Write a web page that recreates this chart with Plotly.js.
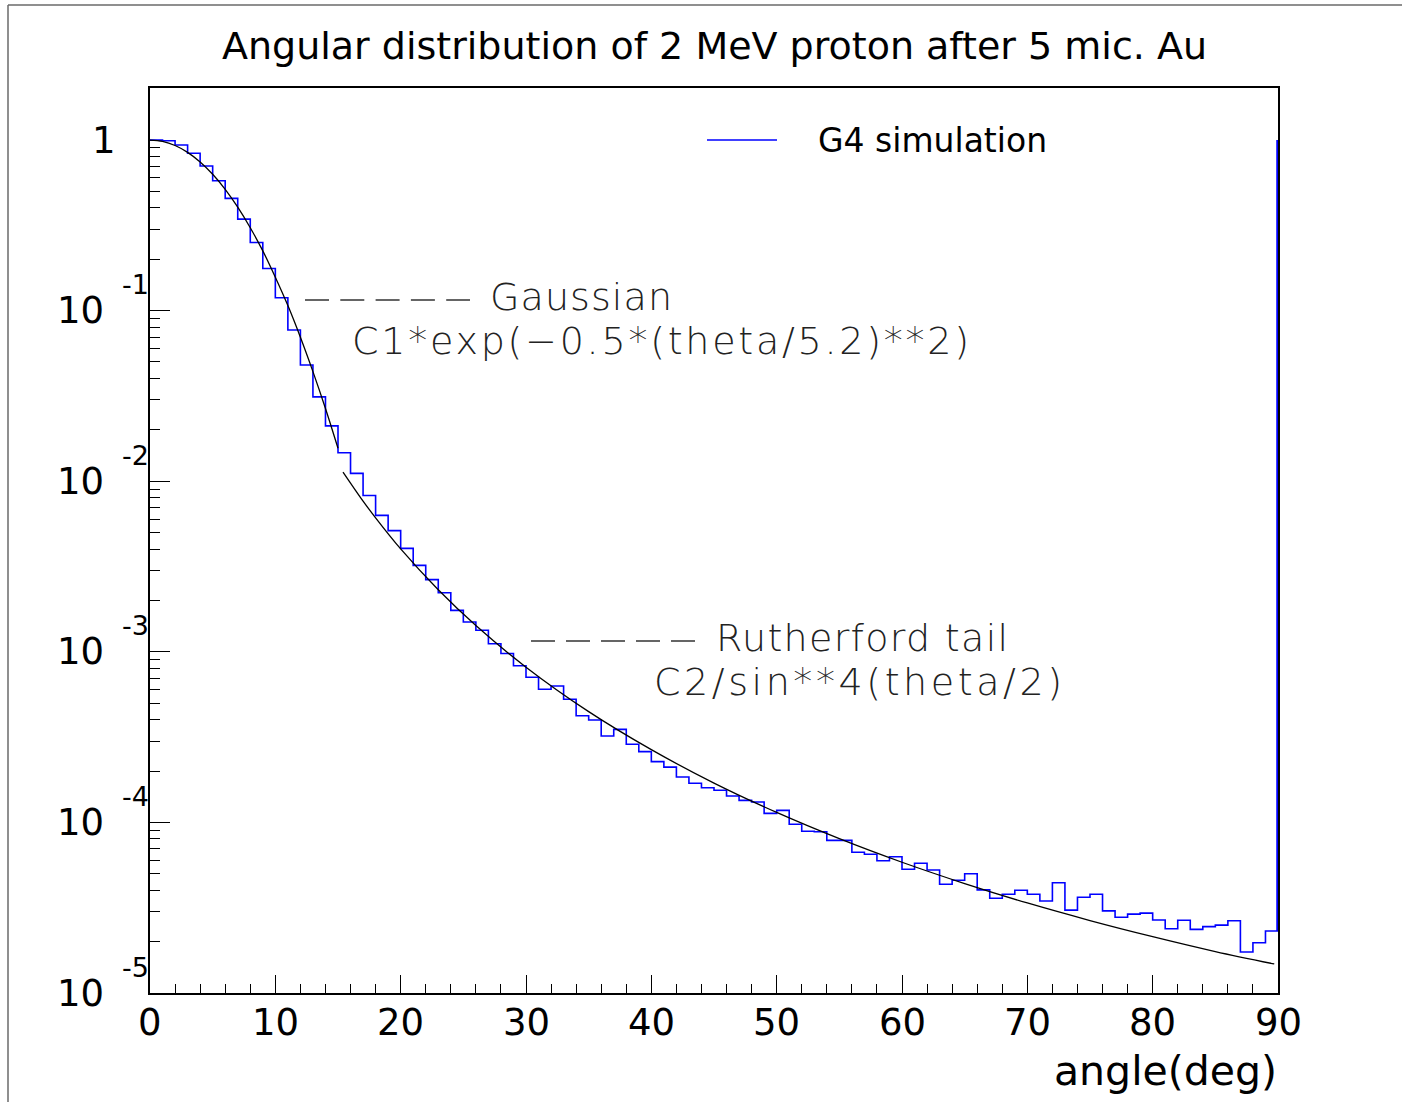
<!DOCTYPE html>
<html><head><meta charset="utf-8">
<script src="https://cdn.plot.ly/plotly-3.0.1.min.js"></script>
<style>html,body{margin:0;padding:0;background:#fff}</style>
</head><body><div id="chart" style="width:1402px;height:1102px"></div>
<script>
// ---------------- data ----------------
const chartTitle = "Angular distribution of 2 MeV proton after 5 mic. Au";
const xTitle = "angle(deg)";
const seriesName = "G4 simulation";

// lower edge of each 1-degree bin (deg)
const binLow = [0,1,2,3,4,5,6,7,8,9,10,11,12,13,14,15,16,17,18,19,20,21,22,23,24,25,26,27,28,29,
  30,31,32,33,34,35,36,37,38,39,40,41,42,43,44,45,46,47,48,49,50,51,52,53,54,55,56,57,58,59,
  60,61,62,63,64,65,66,67,68,69,70,71,72,73,74,75,76,77,78,79,80,81,82,83,84,85,86,87,88,89];
const binUpper = 90;

// G4 simulation histogram contents (normalised)
const g4Counts = [1.0,0.99,0.935,0.836,0.704,0.577,0.455,0.344,0.251,0.1765,
  0.119,0.0770,0.0480,0.0312,0.0211,0.01469,0.01112,0.00825,0.00631,0.00513,
  0.00404,0.00321,0.00265,0.00222,0.00175,0.001495,0.001337,0.001115,0.000977,0.000829,
  0.000709,0.000603,0.000630,0.000527,0.000422,0.000398,0.000321,0.000351,0.000287,0.000260,
  0.000227,0.000211,0.0001845,0.0001695,0.0001597,0.0001543,0.0001428,0.0001347,0.0001317,0.0001130,
  0.0001177,0.0000975,0.0000887,0.0000882,0.0000785,0.0000785,0.0000668,0.0000650,0.0000596,0.0000629,
  0.0000531,0.0000576,0.0000526,0.0000434,0.0000458,0.0000500,0.0000402,0.0000359,0.0000379,0.0000400,
  0.0000379,0.0000346,0.0000443,0.0000306,0.0000364,0.0000379,0.0000303,0.0000278,0.0000290,0.0000294,
  0.0000268,0.0000238,0.0000267,0.0000236,0.0000245,0.0000250,0.0000265,0.0000174,0.0000197,0.0000231];
// value the histogram outline climbs to at the right edge (overflow)
const overflowValue = 1.0;

// Gaussian fit curve  C1*exp(-0.5*(theta/5.2)**2)
const gaussAngle = [0,1,2,3,4,5,6,7,8,9,10,11,12,13,14,15];
const gaussValue = [1.0,0.982,0.929,0.847,0.744,0.630,0.514,0.404,0.306,0.224,0.157,0.107,0.0698,0.0439,0.0267,0.0156];

// Rutherford tail curve  C2/sin**4(theta/2)
const rutherAngle = [15.4,17,18,20,23,26,30,35,40,45,50,55,60,65,70,75,80,85,89.7];
const rutherValue = [0.01132,0.00765,0.0061,0.00401,0.00231,0.001425,0.000813,0.000446,0.000267,0.000170,
  0.0001144,0.0000803,0.0000584,0.0000438,0.0000337,0.0000266,0.0000214,0.0000175,0.0000148];

// axis ticks
const xMajorTicks = [0,10,20,30,40,50,60,70,80,90];
const xTickLabels = ["0","10","20","30","40","50","60","70","80","90"];
const yDecades = [0,-1,-2,-3,-4,-5];
const yMinorMultipliers = [2,3,4,5,6,7,8,9];

// annotation texts
const gaussLabel = "Gaussian";
const gaussFormula = "C1*exp(\u22120.5*(theta/5.2)**2)";
const rutherLabel = "Rutherford tail";
const rutherFormula = "C2/sin**4(theta/2)";

// ---------------- layout helpers ----------------
const W = 1402, H = 1102;
const L = 150, R = 1278, T = 88, B = 993;
const px = x => (x - L) / (R - L);
const py = y => (B - y) / (B - T);

const yMajorVals = yDecades.map(d => Math.pow(10, d));
const yMinorVals = [];
yDecades.forEach(d => yMinorMultipliers.forEach(m => {
  const v = m * Math.pow(10, d);
  if (Math.log10(v) <= 0.305) yMinorVals.push(v);
}));

const histX = binLow.concat([binUpper]);
const histY = g4Counts.concat([g4Counts[g4Counts.length - 1]]);

const traces = [
  {x: histX, y: histY, type: 'scatter', mode: 'lines', name: seriesName,
   line: {shape: 'hv', color: '#0000ff', width: 1.6}, showlegend: false},
  {x: [binUpper, binUpper], y: [g4Counts[g4Counts.length - 1], overflowValue], type: 'scatter', mode: 'lines',
   name: seriesName + ' overflow', line: {color: '#0000ff', width: 3.5}, showlegend: false},
  {x: gaussAngle, y: gaussValue, type: 'scatter', mode: 'lines', name: 'Gaussian',
   line: {shape: 'spline', color: '#000000', width: 1.3}, showlegend: false},
  {x: rutherAngle, y: rutherValue, type: 'scatter', mode: 'lines', name: 'Rutherford tail',
   line: {shape: 'spline', color: '#000000', width: 1.3}, showlegend: false}
];

const hershey = {family: 'DejaVu Sans', size: 38, color: '#222', weight: 200};
const axisFont = {family: 'DejaVu Sans', size: 37, color: '#000'};

const annotations = [];
yDecades.forEach(d => {
  if (d === 0) {
    annotations.push({xref: 'paper', yref: 'y', x: px(118), y: d, text: '1', showarrow: false,
      xanchor: 'right', yanchor: 'middle', font: axisFont});
  } else {
    annotations.push({xref: 'paper', yref: 'y', x: px(106), y: d, text: '10', showarrow: false,
      xanchor: 'right', yanchor: 'middle', font: axisFont});
    annotations.push({xref: 'paper', yref: 'y', x: px(120), y: d, yshift: 26, text: String(d), showarrow: false,
      xanchor: 'left', yanchor: 'middle', font: {family: 'DejaVu Sans', size: 27, color: '#000'}});
  }
});
xMajorTicks.forEach((v, i) => {
  annotations.push({xref: 'x', yref: 'paper', x: v, y: py(1023), text: xTickLabels[i], showarrow: false,
    xanchor: 'center', yanchor: 'middle', font: axisFont});
});
annotations.push({xref: 'paper', yref: 'paper', x: px(1279), y: py(1071), text: xTitle, showarrow: false,
  xanchor: 'right', yanchor: 'middle', font: {family: 'DejaVu Sans', size: 41, color: '#000'}});
annotations.push({xref: 'paper', yref: 'paper', x: px(816), y: py(140), text: seriesName, showarrow: false,
  xanchor: 'left', yanchor: 'middle', font: {family: 'DejaVu Sans', size: 33, color: '#000'}});

// Hershey-style labels: left position and ink width
const hersheyLabels = [
  {text: gaussLabel, left: 488, y: 297, width: 182},
  {text: gaussFormula, left: 350, y: 341, width: 617},
  {text: rutherLabel, left: 714, y: 638, width: 292},
  {text: rutherFormula, left: 652, y: 682, width: 408}
];
hersheyLabels.forEach(h => annotations.push({xref: 'paper', yref: 'paper', x: px(h.left), y: py(h.y),
  text: h.text, showarrow: false, xanchor: 'left', yanchor: 'middle', align: 'left', font: hershey}));

const shapes = [
  // outer canvas border (left and top)
  {type: 'line', xref: 'paper', yref: 'paper', x0: px(8), x1: px(8), y0: py(5), y1: py(1102),
   line: {color: '#6a6a6a', width: 1.5}},
  {type: 'line', xref: 'paper', yref: 'paper', x0: px(8), x1: px(1402), y0: py(5), y1: py(5),
   line: {color: '#6a6a6a', width: 1.5}},
  // legend sample
  {type: 'line', xref: 'paper', yref: 'paper', x0: px(707), x1: px(777), y0: py(140), y1: py(140),
   line: {color: '#0000ff', width: 1.3}},
  // dashed leaders
  {type: 'line', xref: 'paper', yref: 'paper', x0: px(305), x1: px(470), y0: py(300), y1: py(300),
   line: {color: '#333', width: 1.3, dash: '24px,11.3px'}},
  {type: 'line', xref: 'paper', yref: 'paper', x0: px(531), x1: px(695), y0: py(641), y1: py(641),
   line: {color: '#333', width: 1.3, dash: '24px,11px'}}
];

const layout = {
  width: W, height: H,
  margin: {l: L, r: W - R, t: T, b: H - B, pad: 0},
  paper_bgcolor: '#fff', plot_bgcolor: '#fff',
  title: {text: chartTitle, font: {family: 'DejaVu Sans', size: 38, color: '#000'},
    x: 714.5 / W, xref: 'container', xanchor: 'center', y: 1 - 46 / H, yref: 'container', yanchor: 'middle'},
  showlegend: false,
  xaxis: {range: [0, 90], tickvals: xMajorTicks, showticklabels: false,
    ticks: 'inside', ticklen: 18, tickwidth: 1, tickcolor: '#000',
    minor: {dtick: 2, ticks: 'inside', ticklen: 9, tickwidth: 1, tickcolor: '#000', showgrid: false},
    showline: true, linecolor: '#000', linewidth: 2, mirror: true, showgrid: false, zeroline: false,
    layer: 'below traces'},
  yaxis: {type: 'log', range: [-5, 0.305], tickvals: yMajorVals, showticklabels: false,
    ticks: 'inside', ticklen: 20, tickwidth: 1, tickcolor: '#000',
    minor: {tickmode: 'array', tickvals: yMinorVals, ticks: 'inside', ticklen: 10, tickwidth: 1, tickcolor: '#000', showgrid: false},
    showline: true, linecolor: '#000', linewidth: 2, mirror: true, showgrid: false, zeroline: false,
    layer: 'below traces'},
  annotations: annotations,
  shapes: shapes
};

Plotly.newPlot('chart', traces, layout, {displayModeBar: false, staticPlot: true}).then(() => {
  // widen the thin labels to the spacing of the original stroke font
  document.querySelectorAll('#chart text.annotation-text').forEach(t => {
    const h = hersheyLabels.find(e => e.text === t.textContent);
    if (!h) return;
    const n = t.textContent.length;
    const w = t.getComputedTextLength();
    const ls = (h.width - w) / Math.max(1, n - 1);
    if (ls > 0) t.style.letterSpacing = ls.toFixed(2) + 'px';
  });
});
</script></body></html>
